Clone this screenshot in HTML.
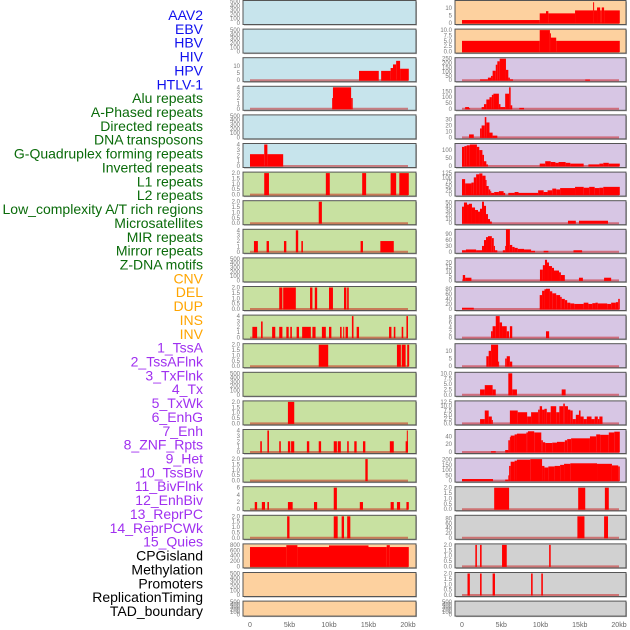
<!DOCTYPE html>
<html><head><meta charset="utf-8">
<style>
html,body{margin:0;padding:0;background:#fff;}
svg{display:block;font-family:"Liberation Sans",sans-serif;}
</style></head>
<body>
<svg id="chart" width="630" height="630" viewBox="0 0 630 630" xmlns="http://www.w3.org/2000/svg"></svg>
<script>
const labelNames = ["AAV2","EBV","HBV","HIV","HPV","HTLV-1","Alu repeats","A-Phased repeats","Directed repeats","DNA transposons","G-Quadruplex forming repeats","Inverted repeats","L1 repeats","L2 repeats","Low_complexity A/T rich regions","Microsatellites","MIR repeats","Mirror repeats","Z-DNA motifs","CNV","DEL","DUP","INS","INV","1_TssA","2_TssAFlnk","3_TxFlnk","4_Tx","5_TxWk","6_EnhG","7_Enh","8_ZNF_Rpts","9_Het","10_TssBiv","11_BivFlnk","12_EnhBiv","13_ReprPC","14_ReprPCWk","15_Quies","CPGisland","Methylation","Promoters","ReplicationTiming","TAD_boundary"];
const labelGroups = [0,0,0,0,0,0,1,1,1,1,1,1,1,1,1,1,1,1,1,2,2,2,2,2,3,3,3,3,3,3,3,3,3,3,3,3,3,3,3,4,4,4,4,4];
const groupTextColors = ["#1010ee","#0a6b0a","#ffa500","#a030f0","#000000"];
const groupFills = ["#c7e4ec","#c8e1a1","#fdd19f","#d7c6e4","#d1d1d1"];
const xTicks = [0,5,10,15,20];
const xTickLabels = ["0","5kb","10kb","15kb","20kb"];
const E = [0,100,200,300,400,500];
const panelTicks = [
 E,E,[0,5,10],[0,1,2,3,4],E,[0,1,2,3,4],
 [0,0.5,1,1.5,2],[0,0.5,1,1.5,2],[0,1,2,3,4],E,[0,0.5,1,1.5,2],[0,1,2,3,4],[0,0.5,1,1.5,2],E,[0,0.5,1,1.5,2],[0,1,2,3,4],[0,0.5,1,1.5,2],[0,2,4,6],[0,0.5,1,1.5,2],
 [0,200,400,600,800],E,E,
 [0,5,10],[0,2.5,5,7.5,10],[0,50,100,150,200,250],[0,50,100,150],[0,10,20,30],[0,50,100],[0,25,50,75,100,125],[0,10,20,30,40,50],[0,30,60,90],[0,5,10,15,20],[0,20,40,60,80],[0,2,4,6,8],[0,5,10],[0,2.5,5,7.5,10],[0,2.5,5,7.5,10,12.5],[0,20,40],[0,50,100,150,200],
 [0,0.5,1,1.5,2],[0,20,40,60,80],[0,0.5,1,1.5,2],[0,0.5,1,1.5,2],E
];
const panelMax = [500,500,15,4,500,4, 2,2,4,500,2,4,2,500,2,4,2,6,2, 800,500,500,
 14.5,10,250,185,36,135,125,52,110,24,85,8.5,14,10,12.5,55,205, 2,90,2,2,500];
const panelSegments = [
 [],[],
 [[13.8,16.3,6.5],[16.6,17.8,6.5],[17.8,18.1,8.5],[18.1,18.5,11],[18.5,19,13.5],[19,20.1,8]],
 [[10.4,10.5,2],[10.5,12.8,4],[12.8,13,2]],
 [],
 [[0,1.8,2.2],[1.8,2.2,4],[2.2,4.2,2.2]],
 [[1.8,2.4,2],[9.6,10.1,2],[14.2,14.7,2],[17.8,18.5,2],[18.9,20.1,2]],
 [[8.7,9.1,2]],
 [[0.5,1,2],[2.1,2.4,2],[4.3,4.6,2],[5.8,6.1,4],[6.5,6.7,2],[14,14.3,2],[16.5,18.2,2]],
 [],
 [[3.7,4.1,2],[4.2,5.8,2],[7.6,7.9,2],[8.2,8.5,2],[10,10.5,2],[11.9,12.2,2],[12.3,12.5,2]],
 [[0.3,0.9,2],[1.4,1.6,3],[2.8,3.2,2],[3.7,4.1,2],[4.6,4.9,2],[5.1,5.3,2],[5.9,6.2,2],[6.6,7.7,2],[7.9,8.3,2],[9.1,9.6,2],[10,10.3,2],[11.4,11.6,2],[11.8,11.9,2],[12.1,12.4,2],[12.9,13.1,4],[13.5,13.8,2],[17.6,17.9,2],[18.2,18.4,2],[19.2,19.4,2],[19.8,20,4]],
 [[8.7,9.9,2],[18.6,19.1,2],[19.2,19.7,2],[19.9,20.2,2]],
 [],
 [[4.8,5.6,2]],
 [[1.3,1.5,2],[2.2,2.4,4],[3.7,3.9,2],[4.8,5.1,2],[5.2,5.6,2],[7.2,7.5,2],[8.7,9,2],[10.6,11,2],[11.1,11.5,2],[12.3,12.5,2],[13.2,13.5,2],[14.3,14.6,2],[17.7,18.2,2],[19.7,20,2],[19.85,19.95,4]],
 [[14.6,14.9,2]],
 [[0.6,0.9,2],[1.5,1.9,2],[2.2,2.4,2],[4.8,5.4,2],[8.1,8.5,2],[10.6,11,6],[13.9,14.3,2],[17.8,18.2,2],[18.6,19,2],[19.8,20.1,2]],
 [[4.7,5,2],[10.6,11.1,2],[11.6,11.9,2],[12.3,12.7,2]],
 [[0,4.6,720],[4.6,6,790],[6,10,720],[10,15,780],[15,17.3,720],[17.3,17.7,790],[17.7,20.1,720]],
 [],[],
 [[0,9.9,2],[9.9,10.7,6.5],[10.7,11,8],[11,14.4,6.5],[14.4,16.7,8.5],[16.7,16.8,14],[16.8,17.2,8.5],[17.2,17.6,10.5],[17.6,17.8,8.5],[17.8,18.1,10.5],[18.1,20.1,8.5]],
 [[0,9.9,5],[9.9,11.2,10],[11.2,11.3,8.5],[11.3,12,6.5],[12,20.1,5]],
 [[2.3,3.3,10],[3.3,3.7,30],[3.7,3.9,50],[3.9,4.3,110],[4.3,4.5,180],[4.5,4.8,220],[4.8,5.6,250],[5.6,5.9,120],[5.9,6.1,30],[6.1,6.5,10],[15.7,16.3,8]],
 [[0.4,0.9,15],[0.9,1.0,5],[2.5,2.8,15],[2.8,3.1,40],[3.1,3.5,80],[3.5,3.8,100],[3.8,4,120],[4,4.7,130],[4.7,4.9,40],[4.9,5.5,15],[5.5,6,130],[6,6.2,185],[6.2,6.4,30],[7.3,7.9,8]],
 [[0.9,1.5,5],[2.3,2.5,15],[2.5,2.9,20],[2.9,3.1,34],[3.1,3.5,25],[3.5,3.9,8],[3.9,4.5,3]],
 [[0,0.3,120],[0.3,0.6,125],[0.6,1,130],[1,1.9,135],[1.9,2.2,120],[2.2,2.6,100],[2.6,2.8,70],[2.8,3.1,30],[3.1,3.3,10],[9.9,10.6,15],[10.6,11.3,30],[11.3,11.9,25],[11.9,12.3,20],[12.3,13.2,25],[13.2,13.8,20],[13.8,15.5,15],[16.1,17.5,10],[17.5,18,15],[18,18.7,20],[18.7,20.1,15]],
 [[0,0.4,90],[0.4,1.2,65],[1.2,1.5,70],[1.5,1.8,100],[1.8,2.2,118],[2.2,2.6,123],[2.6,3,110],[3,3.1,85],[3.1,3.4,50],[3.4,3.6,30],[3.6,3.7,20],[3.7,4.1,10],[4.1,4.7,15],[4.7,5.3,20],[5.3,5.5,10],[5.9,6.7,10],[6.7,7.2,15],[7.2,9.7,10],[9.7,10.4,25],[10.4,10.9,15],[10.9,11.5,25],[11.5,12,35],[12,12.5,30],[12.5,14.4,38],[14.4,15.5,45],[15.5,16.2,40],[16.2,16.9,45],[16.9,17.5,38],[17.5,18,40],[18,20.1,45]],
 [[0,0.25,40],[0.25,0.64,50],[0.64,0.89,45],[0.89,1.27,47],[1.27,1.66,38],[1.66,2.04,32],[2.04,2.29,28],[2.29,2.55,35],[2.55,2.8,52],[2.8,3.06,42],[3.06,3.31,22],[3.31,3.57,10],[3.57,3.8,4],[13.5,14.5,6],[14.9,18.6,6]],
 [[0,0.5,8],[0.5,1.8,12],[1.8,2.55,8],[2.55,2.8,30],[2.8,3.06,60],[3.06,3.31,75],[3.31,3.8,80],[3.8,4.05,70],[4.05,4.2,30],[4.2,4.5,8],[5.2,5.5,8],[5.5,5.6,30],[5.6,6.1,115],[6.1,6.4,35],[6.4,6.7,25],[6.7,7.1,20],[7.1,7.9,15],[7.9,8.8,12],[8.8,9.3,5],[10.4,11,5],[14.2,15.3,8]],
 [[0.1,0.4,6],[0.4,1.2,3],[9.93,10.3,12],[10.3,10.57,17],[10.57,10.83,23],[10.83,11.08,20],[11.08,11.46,16],[11.46,11.72,14],[11.72,12.36,11],[12.36,12.6,9],[12.6,13.1,6],[14.9,15.4,3],[18.1,19,3]],
 [[0,1.5,5],[9.9,10.2,55],[10.2,10.5,72],[10.5,10.7,78],[10.7,11.2,80],[11.2,11.5,70],[11.5,12,62],[12,12.5,55],[12.5,12.7,48],[12.7,13.1,40],[13.1,13.4,35],[13.4,13.8,25],[13.8,14.3,22],[14.3,15.5,20],[15.5,16.1,25],[16.1,16.6,20],[16.6,17,23],[17,17.3,25],[17.3,18.5,22],[18.5,19,20],[19,19.6,25],[19.6,19.9,27],[19.9,20.1,40]],
 [[3.7,3.9,2.5],[3.9,4.3,4.5],[4.3,4.8,8.5],[4.8,5.1,6],[5.1,5.7,4.5],[5.7,6,2.5],[6.1,6.4,4.5],[10.7,11.1,2.5]],
 [[3.1,3.4,6.5],[3.4,3.7,10],[3.7,4.6,14],[4.6,4.7,3],[5.5,5.7,5],[5.7,6.1,6.5],[6.1,6.4,3]],
 [[2.3,2.9,2.5],[2.9,3.9,4.5],[3.9,4.3,2.5],[5.9,6.4,10],[6.4,7,2.5],[12.7,13.2,2.5]],
 [[2.3,2.9,2.5],[2.9,3.4,7.5],[3.4,3.8,4],[3.8,3.9,2],[6.1,7.1,7.5],[7.1,8.3,6.5],[8.3,8.8,4],[8.8,9.7,6.5],[9.7,9.9,8],[9.9,10.2,10],[10.2,10.5,8],[10.5,10.8,8.5],[10.8,11.3,6.5],[11.3,12,10],[12,12.4,6.5],[12.4,12.9,10],[12.9,13.1,11.5],[13.1,13.5,10],[13.5,13.8,8],[13.8,14.1,7.5],[14.1,14.5,2.5],[14.5,14.9,5],[14.9,15.1,7.5],[15.1,15.5,4],[15.5,15.9,2.5],[15.9,16.5,4],[16.5,16.9,2.5],[16.9,17.3,4],[17.3,17.5,2.5],[17.5,17.9,4]],
 [[3.7,4.3,2],[5.5,5.9,5],[5.9,6.1,30],[6.1,6.2,38],[6.2,6.7,42],[6.7,7,45],[7,8.2,47],[8.2,8.4,50],[8.4,9.2,53],[9.2,10.1,50],[10.1,10.3,30],[10.3,10.6,25],[10.6,11.5,23],[11.5,12.1,24],[12.1,13.1,26],[13.1,13.4,30],[13.4,13.9,33],[13.9,16.3,35],[16.3,17.1,40],[17.1,17.6,45],[17.6,18.7,44],[18.7,19.4,50],[19.4,20.1,52]],
 [[0,3.95,15],[5.5,5.9,10],[5.9,6,50],[6,6.2,140],[6.2,6.7,180],[6.7,7,190],[7,8.7,200],[8.7,10.2,205],[10.2,10.5,140],[10.5,11,125],[11,11.8,135],[11.8,12.5,140],[12.5,13,150],[13,13.8,160],[13.8,17.2,165],[17.2,19.1,160],[19.1,19.9,145],[19.9,20.1,135]],
 [[4.1,6,2],[14.8,15.7,2],[18.2,18.7,2]],
 [[14.7,15.6,90],[18.1,18.6,90]],
 [[1.7,1.9,2],[2.3,2.5,2],[5.1,5.7,2],[11.1,11.3,2]],
 [[0.7,1,2],[2.3,2.5,2],[3.9,4.2,2],[8.8,9,2],[10.1,10.3,2]],
 []
];

const NS = "http://www.w3.org/2000/svg";
const svg = document.getElementById("chart");
function mk(tag, attrs, parent){
  const e = document.createElementNS(NS, tag);
  for (const k in attrs) e.setAttribute(k, attrs[k]);
  (parent||svg).appendChild(e);
  return e;
}
const cols = [{left:243, right:416, x0:250, x1:408},{left:455, right:626, x0:462, x1:619}];
function xScale(c, kb){ return cols[c].x0 + (cols[c].x1 - cols[c].x0) * kb / 20; }
function rowTop(r){ return 0.5 + r*28.6; }
function rowH(r){ return r === 21 ? 15 : 24; }

labelNames.forEach((name, i) => {
  const t = mk("text", {x:203, y:15 + i*13.86 + 5, "text-anchor":"end", "font-size":"14", fill:groupTextColors[labelGroups[i]]});
  
  
  t.textContent = name;
});

labelNames.forEach((name, p) => {
  const c = p < 22 ? 0 : 1;
  const r = p % 22;
  const top = rowTop(r), h = rowH(r);
  const L = cols[c].left, R = cols[c].right;
  const g = mk("g", {});
  
  
  mk("rect", {x:L+1, y:top+1, width:R-L, height:h, fill:"#aaa"}, g);
  mk("rect", {x:L, y:top, width:R-L, height:h, fill:groupFills[labelGroups[p]], stroke:"#555", "stroke-width":1}, g);
  const ymax = panelMax[p];
  const yb = top + h - 1.5, yt = top + 1;
  const yS = v => yb - (yb - yt) * v / ymax;
  if (panelSegments[p].length) {
    const bl = mk("line", {x1:xScale(c,0), x2:xScale(c,20), y1:yb, y2:yb, stroke:"rgba(200,0,0,0.45)", "stroke-width":2}, g);
    
    
  }
  panelSegments[p].forEach(s => {
    const x1 = xScale(c, s[0]), x2 = xScale(c, Math.min(s[1], 20.15));
    const y = yS(s[2]);
    const b = mk("rect", {x:x1, y:y, width:Math.max(x2-x1, 1), height:yb - y + 0.5, fill:"#ff0000"}, g);
    
    
  });
  const frac = panelTicks[p].some(q => q % 1 !== 0);
  panelTicks[p].forEach(v => {
    const t = mk("text", {x:L-3, y:yS(v)+2, "text-anchor":"end", "font-size":"6", fill:"#777"}, g);
    
    
    t.textContent = frac ? v.toFixed(1) : String(v);
  });
});

[0,1].forEach(c => {
  xTicks.forEach((v, i) => {
    const t = mk("text", {x:xScale(c, v), y:627, "text-anchor":"middle", "font-size":"7", fill:"#666"});
    
    
    t.textContent = xTickLabels[i];
  });
});
</script>
</body></html>
